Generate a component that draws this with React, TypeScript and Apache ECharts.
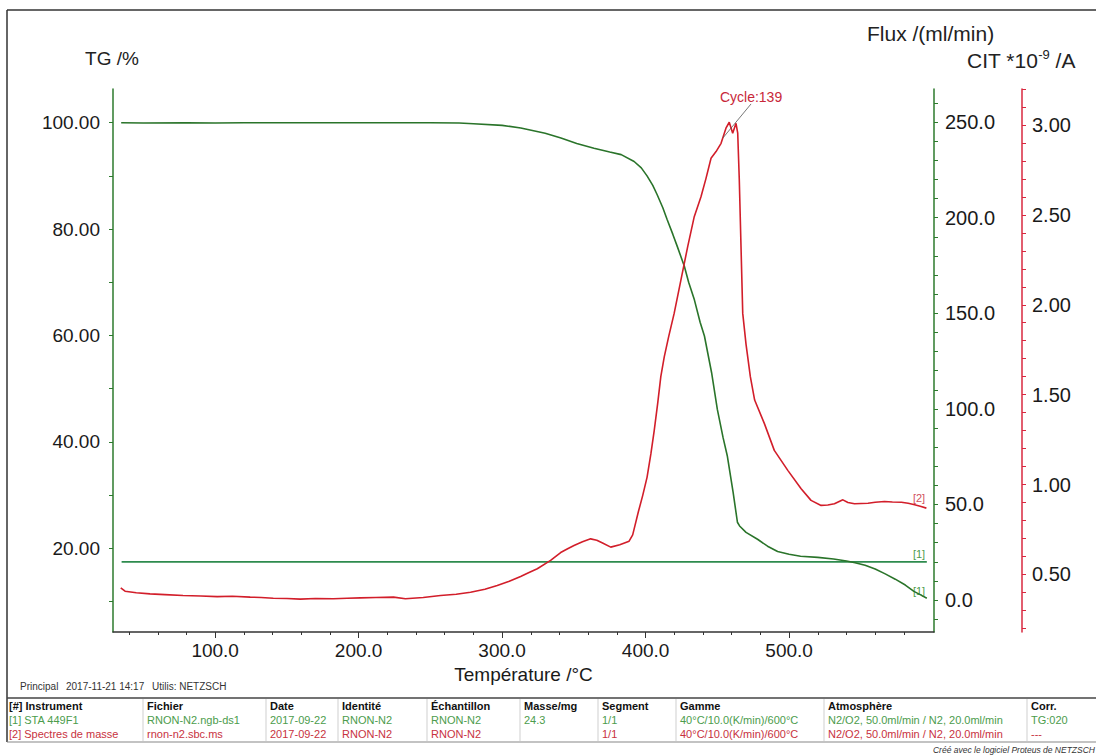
import React, { useEffect, useRef } from 'react';
import * as echarts from 'echarts';

const FONT = '"Liberation Sans", Arial, Helvetica, sans-serif';

// ---- axis labels ----
const tempLabels = [100, 200, 300, 400, 500];
const tgLabels = [20, 40, 60, 80, 100];
const fluxLabels = [0, 50, 100, 150, 200, 250];
const citLabels = [0.5, 1.0, 1.5, 2.0, 2.5, 3.0];

// ---- TG curve (Température /°C, TG /%) ----
const tgTemp = [34.5, 50, 80, 100, 120, 150, 200, 250, 270, 280, 300, 313, 330, 341, 352, 364, 375, 383, 392, 397, 401, 405, 408, 412, 415, 419, 422, 427, 430, 434, 438, 441, 446, 450, 454, 457, 461, 464, 465.5, 470, 478, 485, 492, 500, 508, 520, 531, 540, 546, 553, 560, 567, 574, 581, 587, 592, 596];
const tgValue = [100.0, 99.95, 100.0, 99.95, 100.0, 100.0, 100.0, 100.0, 99.95, 99.8, 99.5, 99.0, 98.0, 97.1, 96.1, 95.2, 94.5, 94.0, 92.7, 91.5, 90.0, 88.2, 86.5, 84.0, 81.8, 79.0, 76.8, 73.0, 70.0, 66.7, 62.5, 59.9, 53.0, 46.1, 40.8, 37.3, 30.5, 24.9, 24.2, 23.0, 21.7, 20.4, 19.4, 18.9, 18.5, 18.3, 18.0, 17.6, 17.3, 16.8, 16.1, 15.2, 14.2, 13.1, 11.9, 11.2, 10.6];

// ---- Flux curve (ml/min) ----
const fluxTemp = [34.8, 596];
const fluxValue = [20, 20];

// ---- Mass spectrum ion current (CIT *10^-9 /A) ----
const msTemp = [34.2, 37.2, 45, 54.6, 65, 77.6, 90, 101.4, 112, 124.4, 132, 140.5, 150, 159.3, 170, 182.4, 192, 201.2, 212, 224.3, 232.6, 245, 257.1, 268, 278, 288, 296.6, 305, 312.9, 318, 324.5, 333.8, 340.8, 345, 350.1, 356, 361.7, 366, 370, 375.7, 382, 388.5, 391, 395, 398, 401, 403.7, 406, 408.4, 410.6, 413, 416, 419.9, 424.6, 429.3, 433.9, 438.6, 442.1, 445.6, 449.1, 452.6, 456, 458.3, 460.7, 463, 464.2, 465.3, 466.5, 467.7, 470, 473, 476, 482.8, 489.7, 499.1, 508.4, 515.3, 522.3, 527, 531.6, 537.5, 541, 545.6, 555, 560, 566.5, 572, 578.3, 583, 587.5, 592, 595.7];
const msValue = [0.426, 0.407, 0.398, 0.392, 0.388, 0.383, 0.380, 0.377, 0.379, 0.374, 0.372, 0.368, 0.366, 0.363, 0.366, 0.365, 0.368, 0.370, 0.372, 0.374, 0.365, 0.372, 0.383, 0.390, 0.401, 0.418, 0.439, 0.462, 0.489, 0.508, 0.532, 0.578, 0.622, 0.640, 0.661, 0.682, 0.698, 0.690, 0.675, 0.652, 0.665, 0.685, 0.72, 0.85, 0.94, 1.04, 1.172, 1.30, 1.45, 1.60, 1.71, 1.82, 1.952, 2.137, 2.322, 2.49, 2.601, 2.703, 2.815, 2.852, 2.898, 2.982, 3.015, 2.954, 3.009, 2.954, 2.694, 2.322, 1.952, 1.78, 1.60, 1.47, 1.339, 1.19, 1.079, 0.977, 0.912, 0.884, 0.886, 0.893, 0.915, 0.900, 0.893, 0.896, 0.902, 0.906, 0.903, 0.902, 0.896, 0.888, 0.878, 0.869];

// ---- table ----
const tableHeaders = ['[#] Instrument', 'Fichier', 'Date', 'Identité', 'Échantillon', 'Masse/mg', 'Segment', 'Gamme', 'Atmosphère', 'Corr.'];
const tableRow1 = ['[1] STA 449F1', 'RNON-N2.ngb-ds1', '2017-09-22', 'RNON-N2', 'RNON-N2', '24.3', '1/1', '40°C/10.0(K/min)/600°C', 'N2/O2, 50.0ml/min / N2, 20.0ml/min', 'TG:020'];
const tableRow2 = ['[2] Spectres de masse', 'rnon-n2.sbc.ms', '2017-09-22', 'RNON-N2', 'RNON-N2', '', '1/1', '40°C/10.0(K/min)/600°C', 'N2/O2, 50.0ml/min / N2, 20.0ml/min', '---'];
const tableColX = [9, 147, 270, 342, 431, 524, 602, 680, 828, 1031];

const GREEN_AXIS = '#2d7a2d';
const TG_COLOR = '#2a742a';
const FLUX_COLOR = '#2e8b4e';
const RED_AXIS = '#d8283f';
const MS_COLOR = '#d21e2a';
const TXT_GREEN = '#4c9c4c';
const TXT_RED = '#c8323e';

const range = (a: number, b: number, s: number) => {
  const out: number[] = [];
  for (let i = 0; a + i * s <= b + 1e-9; i++) out.push(Math.round((a + i * s) * 1000) / 1000);
  return out;
};

function txt(x: number, y: number, text: string, opts: any = {}) {
  const align = opts.align || 'left';
  const valign = opts.valign || 'middle';
  return {
    type: 'text',
    x,
    y,
    silent: true,
    style: {
      text,
      fill: opts.fill || '#222',
      font: `${opts.italic ? 'italic ' : ''}${opts.bold ? 'bold ' : ''}${opts.size || 11}px ${FONT}`,
      align,
      verticalAlign: valign,
      textAlign: align,
      textVerticalAlign: valign,
    },
  };
}

function line(x1: number, y1: number, x2: number, y2: number, stroke: string, lw = 1) {
  return { type: 'line', silent: true, shape: { x1, y1, x2, y2 }, style: { stroke, lineWidth: lw } };
}

export default function App() {
  const ref = useRef<HTMLDivElement>(null);

  useEffect(() => {
    document.body.style.margin = '0';
    if (!ref.current) return;
    const chart = echarts.init(ref.current, null, { renderer: 'svg' });

    const tgData = tgTemp.map((t, i) => [t, tgValue[i]]);
    const fluxData = fluxTemp.map((t, i) => [t, fluxValue[i]]);
    const msData = msTemp.map((t, i) => [t, msValue[i]]);

    const graphic: any[] = [];
    // frame
    graphic.push(line(7, 10, 1096, 10, '#333', 1.5));
    graphic.push(line(7, 10, 7, 742, '#333', 1.5));
    // axis titles
    graphic.push(txt(112, 58, 'TG /%', { size: 19, align: 'center' }));
    graphic.push(txt(867, 33, 'Flux /(ml/min)', { size: 21 }));
    graphic.push({
      type: 'text',
      x: 967,
      y: 60,
      silent: true,
      style: {
        text: '{a|CIT *10}{s|-9}{a| /A}',
        align: 'left',
        verticalAlign: 'middle',
        textAlign: 'left',
        textVerticalAlign: 'middle',
        rich: {
          a: { fontSize: 21, fontFamily: FONT, fill: '#222', color: '#222', lineHeight: 24, verticalAlign: 'middle' },
          s: { fontSize: 13, fontFamily: FONT, fill: '#222', color: '#222', lineHeight: 13, verticalAlign: 'top' },
        },
      },
    });
    // curve labels
    graphic.push(txt(919, 498, '[2]', { size: 11, align: 'center', fill: '#d0505c' }));
    graphic.push(txt(919, 554, '[1]', { size: 11, align: 'center', fill: '#4c9c4c' }));
    graphic.push(txt(919, 591, '[1]', { size: 11, align: 'center', fill: '#4c9c4c' }));
    // info line
    graphic.push(txt(20, 686, 'Principal', { size: 10, fill: '#333' }));
    graphic.push(txt(66, 686, '2017-11-21 14:17', { size: 10, fill: '#333' }));
    graphic.push(txt(152, 686, 'Utilis: NETZSCH', { size: 10, fill: '#333' }));
    // table
    graphic.push(line(7, 698, 1096, 698, '#444', 1.5));
    graphic.push(line(7, 742, 1096, 742, '#888', 1.2));
    tableColX.forEach((cx, i) => {
      if (i > 0) graphic.push(line(cx - 4, 699, cx - 4, 741, '#cfcfcf', 1));
      graphic.push(txt(cx, 706, tableHeaders[i], { size: 11, bold: true, fill: '#111' }));
      graphic.push(txt(cx, 720, tableRow1[i], { size: 11, fill: TXT_GREEN }));
      graphic.push(txt(cx, 734, tableRow2[i], { size: 11, fill: TXT_RED }));
    });
    graphic.push(txt(1095, 750, 'Créé avec le logiciel Proteus de NETZSCH', { size: 8.5, italic: true, align: 'right', fill: '#333' }));

    const labelStyle = { fontSize: 19, fontFamily: FONT, color: '#1a1a1a' };
    const rightLabelStyle = { fontSize: 20, fontFamily: FONT, color: '#1a1a1a' };

    chart.setOption({
      animation: false,
      backgroundColor: '#fff',
      textStyle: { fontFamily: FONT },
      grid: { left: 113, right: 162, top: 89, bottom: 123, containLabel: false, outerBoundsMode: 'none' },
      xAxis: [
        {
          type: 'value',
          min: 28.8,
          max: 601,
          position: 'bottom',
          axisLine: { show: true, onZero: false, lineStyle: { color: '#333', width: 1.5 } },
          axisTick: { show: true, length: 6, customValues: tempLabels, lineStyle: { color: '#333', width: 1 } },
          axisLabel: { ...labelStyle, margin: 9, customValues: tempLabels, formatter: (v: number) => v.toFixed(1) },
          splitLine: { show: false },
          name: 'Température /°C',
          nameLocation: 'middle',
          nameGap: 27,
          nameTextStyle: { fontSize: 19, fontFamily: FONT, color: '#1a1a1a' },
        },
        {
          type: 'value',
          min: 28.8,
          max: 601,
          position: 'bottom',
          axisLine: { show: false, onZero: false },
          axisTick: {
            show: true,
            length: 3,
            customValues: range(40, 580, 20).filter((v) => v % 100 !== 0),
            lineStyle: { color: '#333', width: 1 },
          },
          axisLabel: { show: false },
          splitLine: { show: false },
        },
      ],
      yAxis: [
        {
          type: 'value',
          min: 4.27,
          max: 106.33,
          position: 'left',
          axisLine: { show: true, onZero: false, lineStyle: { color: GREEN_AXIS, width: 1.5 } },
          axisTick: { show: true, length: 4, customValues: range(10, 100, 10), lineStyle: { color: GREEN_AXIS, width: 1 } },
          axisLabel: { ...labelStyle, margin: 13, customValues: tgLabels, formatter: (v: number) => v.toFixed(2) },
          splitLine: { show: false },
        },
        {
          type: 'value',
          min: -16.7,
          max: 267.3,
          position: 'right',
          offset: 0,
          axisLine: { show: true, onZero: false, lineStyle: { color: GREEN_AXIS, width: 1.5 } },
          axisTick: { show: true, length: 4, customValues: range(-10, 260, 10), lineStyle: { color: GREEN_AXIS, width: 1 } },
          axisLabel: { ...rightLabelStyle, margin: 11, customValues: fluxLabels, formatter: (v: number) => v.toFixed(1) },
          splitLine: { show: false },
        },
        {
          type: 'value',
          min: 0.18,
          max: 3.2,
          position: 'right',
          offset: 88,
          axisLine: { show: true, onZero: false, lineStyle: { color: RED_AXIS, width: 1.5 } },
          axisTick: { show: true, length: 4, customValues: range(0.2, 3.2, 0.1), lineStyle: { color: RED_AXIS, width: 1 } },
          axisLabel: { ...rightLabelStyle, margin: 10, customValues: citLabels, formatter: (v: number) => v.toFixed(2) },
          splitLine: { show: false },
        },
      ],
      series: [
        {
          name: 'TG',
          type: 'line',
          xAxisIndex: 0,
          yAxisIndex: 0,
          data: tgData,
          showSymbol: false,
          symbol: 'none',
          lineStyle: { color: TG_COLOR, width: 1.6 },
          itemStyle: { color: TG_COLOR },
          silent: true,
          z: 3,
        },
        {
          name: 'Flux',
          type: 'line',
          xAxisIndex: 0,
          yAxisIndex: 1,
          data: fluxData,
          showSymbol: false,
          symbol: 'none',
          lineStyle: { color: FLUX_COLOR, width: 1.6 },
          itemStyle: { color: FLUX_COLOR },
          silent: true,
          z: 2,
        },
        {
          name: 'CIT',
          type: 'line',
          xAxisIndex: 0,
          yAxisIndex: 2,
          data: msData,
          showSymbol: false,
          symbol: 'none',
          lineStyle: { color: MS_COLOR, width: 1.6 },
          itemStyle: { color: MS_COLOR },
          silent: true,
          z: 4,
          markLine: {
            silent: true,
            symbol: ['none', 'none'],
            label: { show: false },
            lineStyle: { color: '#555', width: 0.8, type: 'solid' },
            data: [[{ coord: [473.5, 3.117] }, { coord: [453.9, 2.928] }]],
          },
          markPoint: {
            silent: true,
            symbol: 'rect',
            symbolSize: 0,
            data: [
              {
                coord: [473.5, 3.156],
                label: {
                  show: true,
                  position: 'inside',
                  formatter: 'Cycle:139',
                  color: '#c8283a',
                  fontSize: 14,
                  fontFamily: FONT,
                },
              },
            ],
          },
        },
      ],
      graphic,
    });

    return () => chart.dispose();
  }, []);

  return <div ref={ref} style={{ width: 1096, height: 755, position: 'relative' }} />;
}
